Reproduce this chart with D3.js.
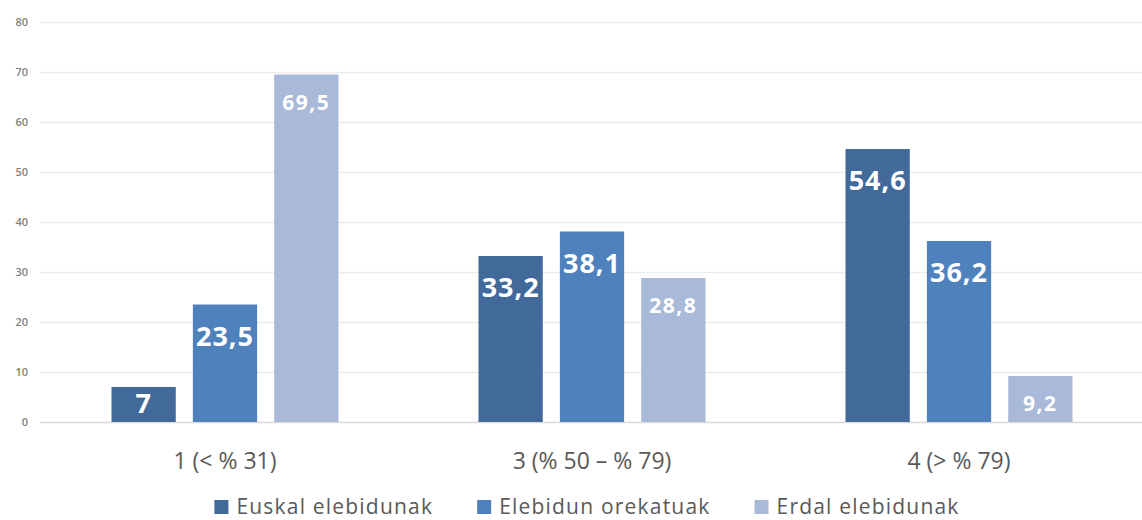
<!DOCTYPE html>
<html>
<head>
<meta charset="utf-8">
<style>
  body { margin: 0; background: #fff; }
  svg { display: block; }
</style>
</head>
<body>
<svg width="1142" height="520"></svg>
<script src="https://cdn.jsdelivr.net/npm/d3@7"></script>
<script>

var categories = ["1 (< % 31)", "3 (% 50 – % 79)", "4 (> % 79)"];
var seriesNames = ["Euskal elebidunak", "Elebidun orekatuak", "Erdal elebidunak"];
var euskal = [7, 33.2, 54.6];
var orekatuak = [23.5, 38.1, 36.2];
var erdal = [69.5, 28.8, 9.2];
var yTicks = [0, 10, 20, 30, 40, 50, 60, 70, 80];
var colors = ["#41699a", "#4f81bd", "#a9b9d8"];

var series = [euskal, orekatuak, erdal];

var svg = d3.select("svg"),
    width = +svg.attr("width"),
    height = +svg.attr("height");

var x0 = d3.scaleBand()
    .domain(categories)
    .range([41.5, 1142.5])
    .paddingInner(0)
    .paddingOuter(0);

var x1 = d3.scaleBand()
    .domain(d3.range(seriesNames.length))
    .range([70, x0.bandwidth() - 70])
    .paddingInner(0.21);

var y = d3.scaleLinear()
    .domain([0, 80])
    .range([422, 22]);

// grid
svg.append("g")
    .selectAll("line")
    .data(yTicks)
    .enter().append("line")
    .attr("x1", 40)
    .attr("x2", width)
    .attr("y1", function(d) { return Math.round(y(d)) + 0.5; })
    .attr("y2", function(d) { return Math.round(y(d)) + 0.5; })
    .attr("stroke", function(d) { return d === 0 ? "#d9d9d9" : "#ececec"; })
    .attr("stroke-width", 1.5);

// y labels
svg.append("g")
    .selectAll("text")
    .data(yTicks)
    .enter().append("text")
    .attr("x", 28)
    .attr("y", function(d) { return y(d); })
    .attr("dy", "0.35em")
    .attr("text-anchor", "end")
    .attr("font-family", "Open Sans, sans-serif")
    .attr("font-size", 11)
    .attr("font-weight", 600)
    .attr("fill", "#808080")
    .text(function(d) { return d; });

// bars
var groups = svg.append("g")
    .selectAll("g")
    .data(categories)
    .enter().append("g")
    .attr("transform", function(d) { return "translate(" + x0(d) + ",0)"; });

var cells = groups.selectAll("g")
    .data(function(c, ci) {
      return series.map(function(s, si) { return { si: si, value: s[ci] }; });
    })
    .enter().append("g");

cells.append("rect")
    .attr("x", function(d) { return x1(d.si); })
    .attr("width", x1.bandwidth())
    .attr("y", function(d) { return y(d.value); })
    .attr("height", function(d) { return y(0) - y(d.value); })
    .attr("fill", function(d) { return colors[d.si]; });

cells.append("text")
    .attr("x", function(d) { return x1(d.si) + x1.bandwidth() / 2; })
    .attr("y", function(d) {
      if (d.si === 2) return y(d.value) + 28;
      return Math.min(y(d.value) + 32, y(0) - 18);
    })
    .attr("dy", "0.35em")
    .attr("text-anchor", "middle")
    .attr("font-family", "Open Sans, sans-serif")
    .attr("font-weight", "bold")
    .attr("font-size", function(d) { return d.si === 2 ? 21 : 27; })
    .attr("letter-spacing", function(d) { return d.si === 2 ? 1.5 : 1; })
    .attr("fill", "#fff")
    .text(function(d) { return String(d.value).replace(".", ","); });

// category labels
svg.append("g")
    .selectAll("text")
    .data(categories)
    .enter().append("text")
    .attr("x", function(d) { return x0(d) + x0.bandwidth() / 2; })
    .attr("y", 461)
    .attr("dy", "0.35em")
    .attr("text-anchor", "middle")
    .attr("font-family", "Open Sans, sans-serif")
    .attr("font-size", 23)
    .attr("fill", "#595959")
    .text(function(d) { return d; });

// legend, laid out in a row and centred
var legendRow = svg.append("g");
var legend = legendRow.selectAll("g")
    .data(seriesNames)
    .enter().append("g");

legend.append("rect")
    .attr("y", 500)
    .attr("width", 14)
    .attr("height", 14)
    .attr("fill", function(d, i) { return colors[i]; });

legend.append("text")
    .attr("x", 22)
    .attr("y", 507)
    .attr("dy", "0.35em")
    .attr("font-family", "Open Sans, sans-serif")
    .attr("font-size", 21)
    .attr("letter-spacing", 1.2)
    .attr("fill", "#595959")
    .text(function(d) { return d; });

var offset = 0;
legend.each(function() {
  var w = this.getBBox().width;
  d3.select(this).attr("transform", "translate(" + offset + ",0)");
  offset += w + 44;
});
var rowW = offset - 44;
legendRow.attr("transform", "translate(" + (587 - rowW / 2) + ",0)");

</script>
</body>
</html>
